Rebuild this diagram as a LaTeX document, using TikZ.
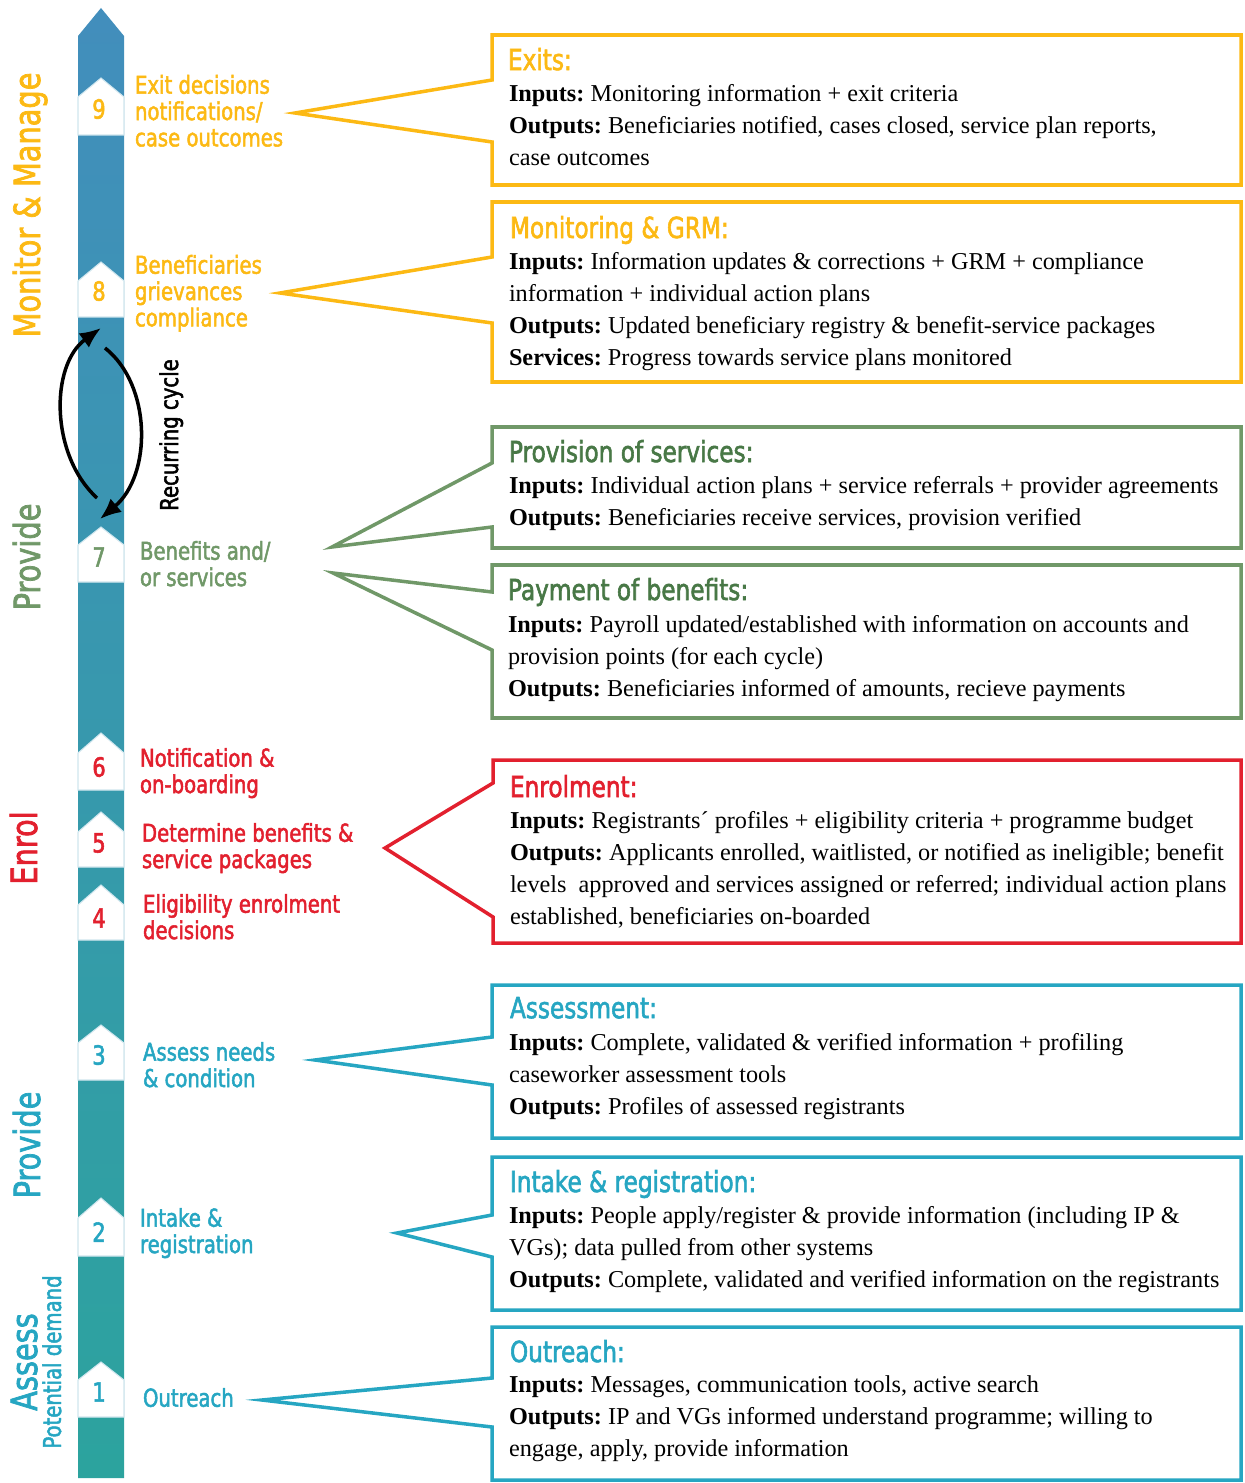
\documentclass[tikz,border=0pt]{standalone}
\usepackage{fontspec}
\setmainfont{Liberation Serif}
\newfontfamily\dinfont[FakeStretch=0.8,FakeBold=2.0]{DejaVu Sans}
\usepackage{tikz}
\usetikzlibrary{shapes,arrows,arrows.meta}
\definecolor{StepYellow}{RGB}{252,185,20}
\definecolor{StepGreen}{RGB}{112,152,104}
\definecolor{TitleGreen}{RGB}{72,120,70}
\definecolor{StepRed}{RGB}{226,32,46}
\definecolor{StepTeal}{RGB}{38,166,194}
\definecolor{BarTop}{RGB}{66,142,188}
\definecolor{BarBottom}{RGB}{44,163,158}
\definecolor{BarEdge}{RGB}{208,230,238}
\frenchspacing

\begin{document}
\begin{tikzpicture}[x=0.02cm,y=-0.02cm]
				\tikzstyle{every node}=[inner sep=0pt, outer sep=0pt];
				\tikzstyle{stepnum}=[font=\dinfont\fontsize{15}{16}\selectfont];
				\tikzstyle{steptext}=[anchor=north west, align=left, font=\dinfont\fontsize{14}{15}\selectfont];
				\tikzstyle{phase}=[rotate=90, anchor=base, font=\dinfont\fontsize{20.5}{22}\selectfont];
				\tikzstyle{boxtitle}=[anchor=north west, font=\dinfont\fontsize{16.5}{18}\selectfont];
				\tikzstyle{boxtext}=[anchor=north west, align=left, font=\fontsize{13.8}{18.2}\selectfont];
				\tikzstyle{callout}=[line width=2pt, miter limit=20];
				\tikzstyle{chevron}=[fill=white, draw=BarEdge, line width=0.6pt];
				\tikzstyle{cycle}=[line width=2pt, -{Latex[length=12pt,width=10pt]}];
				\useasboundingbox (0,0) rectangle (1244,1483);
				% the bar
				\shade[top color=BarTop, bottom color=BarBottom] (78,1478) -- (78,36) -- (101,8) -- (124,36) -- (124,1478) -- cycle;
				\filldraw[chevron] (78,97) -- (101,78) -- (124,97) -- (124,135) -- (78,135) -- cycle;
				\filldraw[chevron] (78,281) -- (101,262) -- (124,281) -- (124,317) -- (78,317) -- cycle;
				\filldraw[chevron] (78,545) -- (101,527) -- (124,545) -- (124,582) -- (78,582) -- cycle;
				\filldraw[chevron] (78,753) -- (101,733) -- (124,753) -- (124,790) -- (78,790) -- cycle;
				\filldraw[chevron] (78,832) -- (101,812) -- (124,832) -- (124,867) -- (78,867) -- cycle;
				\filldraw[chevron] (78,905) -- (101,885) -- (124,905) -- (124,940) -- (78,940) -- cycle;
				\filldraw[chevron] (78,1043) -- (101,1025) -- (124,1043) -- (124,1080) -- (78,1080) -- cycle;
				\filldraw[chevron] (78,1218) -- (101,1198) -- (124,1218) -- (124,1256) -- (78,1256) -- cycle;
				\filldraw[chevron] (78,1380) -- (101,1362) -- (124,1380) -- (124,1417) -- (78,1417) -- cycle;
				\node [stepnum, text=StepYellow] (n9) at (99,109) {9};
				\node [stepnum, text=StepYellow] (n8) at (99,291) {8};
				\node [stepnum, text=StepGreen] (n7) at (99,557) {7};
				\node [stepnum, text=StepRed] (n6) at (99,767) {6};
				\node [stepnum, text=StepRed] (n5) at (99,843) {5};
				\node [stepnum, text=StepRed] (n4) at (99,918) {4};
				\node [stepnum, text=StepTeal] (n3) at (99,1055) {3};
				\node [stepnum, text=StepTeal] (n2) at (99,1232) {2};
				\node [stepnum, text=StepTeal] (n1) at (99,1392) {1};
				% recurring cycle
				\coordinate (c1) at (97,498);
				\coordinate (c2) at (101,328);
				\coordinate (c3) at (105,348);
				\coordinate (c4) at (100,519);
				\draw[cycle] (c1) .. controls (50,455) and (50,365) .. (c2);
				\draw[cycle] (c3) .. controls (152,385) and (152,475) .. (c4);
				\node [phase, font=\dinfont\fontsize{14}{16}\selectfont] (rc) at (178,435) {Recurring cycle};
				% phases
				\node [phase, text=StepYellow] (p1) at (40,205) {Monitor \& Manage};
				\node [phase, text=StepGreen] (p2) at (40,557) {Provide};
				\node [phase, text=StepRed] (p3) at (37,848) {Enrol};
				\node [phase, text=StepTeal] (p4) at (40,1145) {Provide};
				\node [phase, text=StepTeal] (p5) at (37,1362) {Assess};
				\node [phase, text=StepTeal, font=\dinfont\fontsize{14}{16}\selectfont] (p6) at (61,1362) {Potential demand};
				% step labels
				\node [steptext, text=StepYellow] (t9) at (135,75) {Exit decisions\\notifications/\\case outcomes};
				\node [steptext, text=StepYellow] (t8) at (135,255) {Beneficiaries\\grievances\\compliance};
				\node [steptext, text=StepGreen] (t7) at (140,541) {Benefits and/\\or services};
				\node [steptext, text=StepRed] (t6) at (140,748) {Notification \&\\on-boarding};
				\node [steptext, text=StepRed] (t5) at (142,823) {Determine benefits \&\\service packages};
				\node [steptext, text=StepRed] (t4) at (143,894) {Eligibility enrolment\\decisions};
				\node [steptext, text=StepTeal] (t3) at (143,1042) {Assess needs\\\& condition};
				\node [steptext, text=StepTeal] (t2) at (140,1208) {Intake \&\\registration};
				\node [steptext, text=StepTeal] (t1) at (143,1388) {Outreach};
				% callout boxes
				\coordinate (tip9) at (295,113);
				\coordinate (tip8) at (280,293);
				\coordinate (tip7a) at (332,547);
				\coordinate (tip7b) at (333,573);
				\coordinate (tip5) at (385,848);
				\coordinate (tip3) at (315,1060);
				\coordinate (tip2) at (397,1233);
				\coordinate (tip1) at (262,1400);
				\draw[callout, StepYellow] (492,80) -- (492,35) -- (1241,35) -- (1241,185) -- (492,185) -- (492,142) -- (tip9) -- cycle;
				\draw[callout, StepYellow] (492,257) -- (492,202) -- (1241,202) -- (1241,382) -- (492,382) -- (492,323) -- (tip8) -- cycle;
				\draw[callout, StepGreen] (492,463) -- (492,427) -- (1241,427) -- (1241,548) -- (492,548) -- (492,527) -- (tip7a) -- cycle;
				\draw[callout, StepGreen] (492,592) -- (492,565) -- (1241,565) -- (1241,718) -- (492,718) -- (492,650) -- (tip7b) -- cycle;
				\draw[callout, StepRed] (493,783) -- (493,760) -- (1241,760) -- (1241,943) -- (493,943) -- (493,917) -- (tip5) -- cycle;
				\draw[callout, StepTeal] (492,1037) -- (492,985) -- (1241,985) -- (1241,1138) -- (492,1138) -- (492,1085) -- (tip3) -- cycle;
				\draw[callout, StepTeal] (492,1215) -- (492,1157) -- (1241,1157) -- (1241,1310) -- (492,1310) -- (492,1257) -- (tip2) -- cycle;
				\draw[callout, StepTeal] (492,1378) -- (492,1327) -- (1241,1327) -- (1241,1480) -- (492,1480) -- (492,1427) -- (tip1) -- cycle;
				% box texts
				\node [boxtitle, text=StepYellow] (h9) at (508,48) {Exits:};
				\node [boxtext] (b9) at (509,84) {\textbf{Inputs:} Monitoring information + exit criteria\\\textbf{Outputs:} Beneficiaries notified, cases closed, service plan reports,\\case outcomes};
				\node [boxtitle, text=StepYellow] (h8) at (510,216) {Monitoring \& GRM:};
				\node [boxtext] (b8) at (509,252) {\textbf{Inputs:} Information updates \& corrections + GRM + compliance\\information + individual action plans\\\textbf{Outputs:} Updated beneficiary registry \& benefit-service packages\\\textbf{Services:} Progress towards service plans monitored};
				\node [boxtitle, text=TitleGreen] (h7a) at (509,440) {Provision of services:};
				\node [boxtext] (b7a) at (509,476) {\textbf{Inputs:} Individual action plans + service referrals + provider agreements\\\textbf{Outputs:} Beneficiaries receive services, provision verified};
				\node [boxtitle, text=TitleGreen] (h7b) at (508,578) {Payment of benefits:};
				\node [boxtext] (b7b) at (508,615) {\textbf{Inputs:} Payroll updated/established with information on accounts and\\provision points (for each cycle)\\\textbf{Outputs:} Beneficiaries informed of amounts, recieve payments};
				\node [boxtitle, text=StepRed] (h5) at (510,775) {Enrolment:};
				\node [boxtext] (b5) at (510,811) {\textbf{Inputs:} Registrants´ profiles + eligibility criteria + programme budget\\\textbf{Outputs:} Applicants enrolled, waitlisted, or notified as ineligible; benefit\\levels\ \ approved and services assigned or referred; individual action plans\\established, beneficiaries on-boarded};
				\node [boxtitle, text=StepTeal] (h3) at (510,997) {Assessment:};
				\node [boxtext] (b3) at (509,1033) {\textbf{Inputs:} Complete, validated \& verified information + profiling\\caseworker assessment tools\\\textbf{Outputs:} Profiles of assessed registrants};
				\node [boxtitle, text=StepTeal] (h2) at (510,1170) {Intake \& registration:};
				\node [boxtext] (b2) at (509,1206) {\textbf{Inputs:} People apply/register \& provide information (including IP \&\\VGs); data pulled from other systems\\\textbf{Outputs:} Complete, validated and verified information on the registrants};
				\node [boxtitle, text=StepTeal] (h1) at (510,1340) {Outreach:};
				\node [boxtext] (b1) at (509,1376) {\textbf{Inputs:} Messages, communication tools, active search\\\textbf{Outputs:} IP and VGs informed understand programme; willing to\\engage, apply, provide information};
			\end{tikzpicture}
\end{document}
